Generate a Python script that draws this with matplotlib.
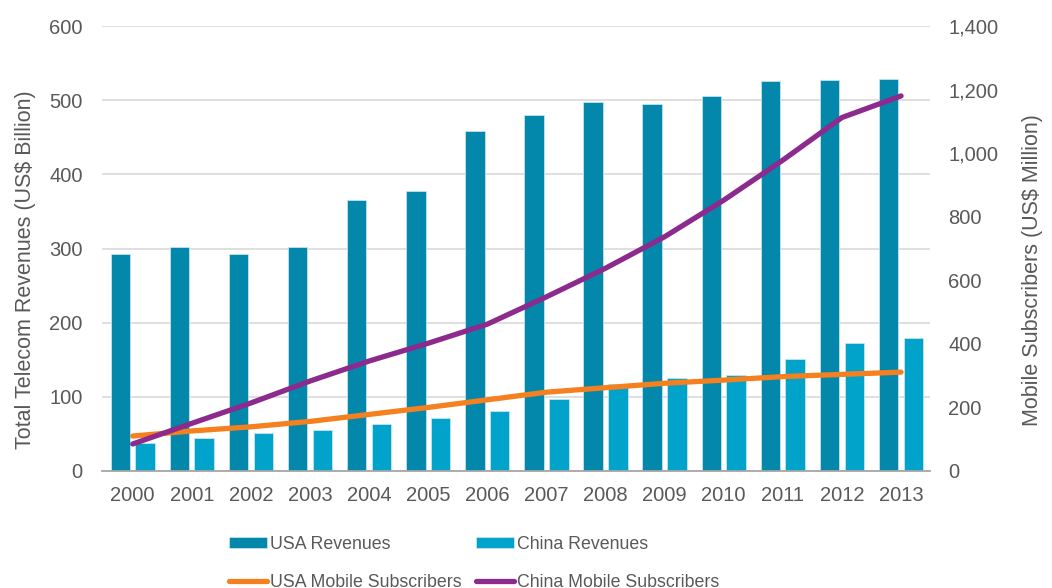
import numpy as np
import matplotlib.pyplot as plt

plt.rcParams['font.family'] = ['Liberation Sans', 'DejaVu Sans']

# data
years = ['2000', '2001', '2002', '2003', '2004', '2005', '2006',
         '2007', '2008', '2009', '2010', '2011', '2012', '2013']
usa_rev = [292, 302, 292, 302, 365, 378, 459, 480, 498, 495, 505, 526, 527, 528]
china_rev = [38, 45, 51, 55, 63, 71, 81, 97, 117, 125, 129, 151, 173, 180]
usa_subs = [110, 126, 139, 156, 178, 200, 224, 248, 262, 276, 286, 297, 304, 311]
china_subs = [85, 150, 214, 283, 346, 402, 462, 548, 638, 737, 852, 978, 1112, 1180]

left_ticks = [0, 100, 200, 300, 400, 500, 600]
right_ticks = [0, 200, 400, 600, 800, 1000, 1200, 1400]

c_usa = '#0388ac'
c_china = '#02a3ca'
c_orange = '#f5801f'
c_purple = '#8c2a8e'
grey = '#595959'
fs = 14.5

fig = plt.figure(figsize=(10.52, 5.88), dpi=100)
ax = fig.add_axes([102/1052, 1-471/588, 828/1052, 445/588])
ax2 = ax.twinx()

x = np.arange(len(years))
w = 0.33
ax.bar(x - 0.21, usa_rev, w, color=c_usa, edgecolor='#cfeaf2', linewidth=0.5,
       label='USA Revenues', zorder=2)
ax.bar(x + 0.21, china_rev, w, color=c_china, edgecolor='#cfeaf2', linewidth=0.5,
       label='China Revenues', zorder=2)

ax2.plot(x, usa_subs, color=c_orange, lw=3.8, solid_capstyle='round',
         solid_joinstyle='round', label='USA Mobile Subscribers')
ax2.plot(x, china_subs, color=c_purple, lw=3.8, solid_capstyle='round',
         solid_joinstyle='round', label='China Mobile Subscribers')

ax.set_xlim(-0.52, 13.49)
ax.set_ylim(0, 600)
ax2.set_ylim(0, 1400)
ax.set_xticks(x)
ax.set_xticklabels(years)
ax.set_yticks(left_ticks)
ax2.set_yticks(right_ticks)
ax2.set_yticklabels([f'{v:,}' for v in right_ticks])

ax.grid(axis='y', color='#d9d9d9', lw=1.2, zorder=0)
ax.set_axisbelow(True)
for s in ['top', 'left', 'right']:
    ax.spines[s].set_visible(False)
    ax2.spines[s].set_visible(False)
ax2.spines['bottom'].set_visible(False)
ax.spines['bottom'].set_color('#a6a6a6')
ax.spines['bottom'].set_linewidth(1.3)

ax.tick_params(axis='y', length=0, pad=14, labelsize=fs, labelcolor=grey)
ax.tick_params(axis='x', length=0, pad=11, labelsize=fs, labelcolor=grey)
ax2.tick_params(axis='y', length=0, pad=13, labelsize=fs, labelcolor=grey)

ax.set_ylabel('Total Telecom Revenues (US$ Billion)', fontsize=15.5, color=grey)
ax2.set_ylabel('Mobile Subscribers (US$ Million)', fontsize=15.5, color=grey)
ax.yaxis.set_label_coords(-0.0797, 0.452)
ax2.yaxis.set_label_coords(1.111, 0.452)

h1, l1 = ax.get_legend_handles_labels()
h2, l2 = ax2.get_legend_handles_labels()
handles = [h1[0], h2[0], h1[1], h2[1]]
labels = [l1[0], l2[0], l1[1], l2[1]]
fig.legend(handles, labels, ncol=2, loc='upper center',
           bbox_to_anchor=(474/1052, 1-527/588), frameon=False, fontsize=12.8,
           labelcolor=grey, handlelength=2.13, handleheight=0.55,
           handletextpad=0.17, columnspacing=0.84, labelspacing=1.16, borderpad=0)

fig.savefig('out.png', dpi=100)
